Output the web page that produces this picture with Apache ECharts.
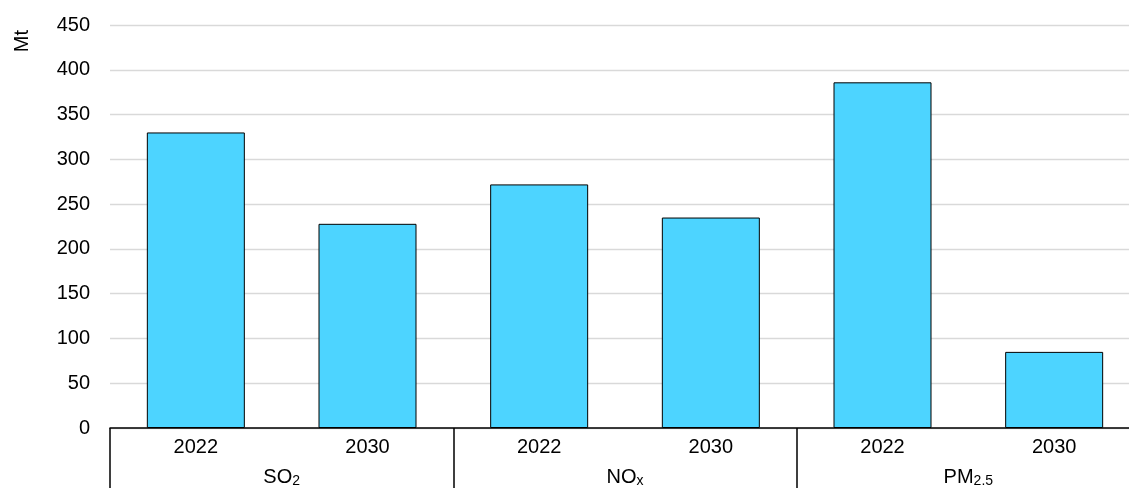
<!DOCTYPE html>
<html>
<head>
<meta charset="utf-8">
<script src="https://cdn.jsdelivr.net/npm/echarts@6/dist/echarts.min.js"></script>
<style>
html,body{margin:0;padding:0;background:#fff;}
#chart{width:1129px;height:488px;}
</style>
</head>
<body>
<div id="chart"></div>
<script>
//年份和污染物分组
var years=["2022","2030","2022","2030","2022","2030"];
var groups=["SO2","NOx","PM2.5"];
var emissions=[330,228,272,235,386,85];
var yTicks=[0,50,100,150,200,250,300,350,400,450];

//分组标签带下标
var groupRich={
    SO2:"SO{sub|2}",
    NOx:"NO{sub|x}",
    "PM2.5":"PM{sub|2.5}"
};

var chart=echarts.init(document.getElementById("chart"));
var option={
    animation:false,
    grid:{
        left:110,
        top:25,
        width:1030,
        height:403,
        outerBoundsMode:"none",
        containLabel:false
    },
    graphic:[{
        type:"text",
        left:12,
        top:30,
        rotation:Math.PI/2,
        style:{
            text:"Mt",
            fontSize:20,
            fontFamily:"Liberation Sans",
            fill:"#000"
        }
    }],
    xAxis:[
        {
            type:"category",
            data:years,
            axisLine:{
                lineStyle:{
                    color:"#000",
                    width:1.5
                }
            },
            axisTick:{show:false},
            axisLabel:{
                margin:9,
                color:"#000",
                fontSize:20,
                fontFamily:"Liberation Sans"
            }
        },
        {
            type:"category",
            data:groups,
            position:"bottom",
            axisLine:{show:false},
            axisTick:{
                show:true,
                length:62,
                lineStyle:{
                    color:"#000",
                    width:1.5
                }
            },
            axisLabel:{
                margin:39,
                color:"#000",
                fontSize:20,
                fontFamily:"Liberation Sans",
                formatter:function(v){
                    return groupRich[v];
                },
                rich:{
                    sub:{
                        fontSize:14,
                        fontFamily:"Liberation Sans",
                        color:"#000",
                        verticalAlign:"bottom",
                        padding:[7,0,0,0]
                    }
                }
            }
        }
    ],
    yAxis:{
        type:"value",
        min:yTicks[0],
        max:yTicks[yTicks.length-1],
        interval:50,
        axisLine:{show:false},
        axisTick:{show:false},
        axisLabel:{
            margin:20,
            color:"#000",
            fontSize:20,
            fontFamily:"Liberation Sans"
        },
        splitLine:{
            lineStyle:{
                color:"#d9d9d9",
                width:1.3
            }
        }
    },
    series:[{
        type:"bar",
        data:emissions,
        barWidth:98,
        itemStyle:{
            color:"#4dd4ff",
            borderColor:"#000",
            borderWidth:1
        }
    }]
};
chart.setOption(option);
</script>
</body>
</html>
